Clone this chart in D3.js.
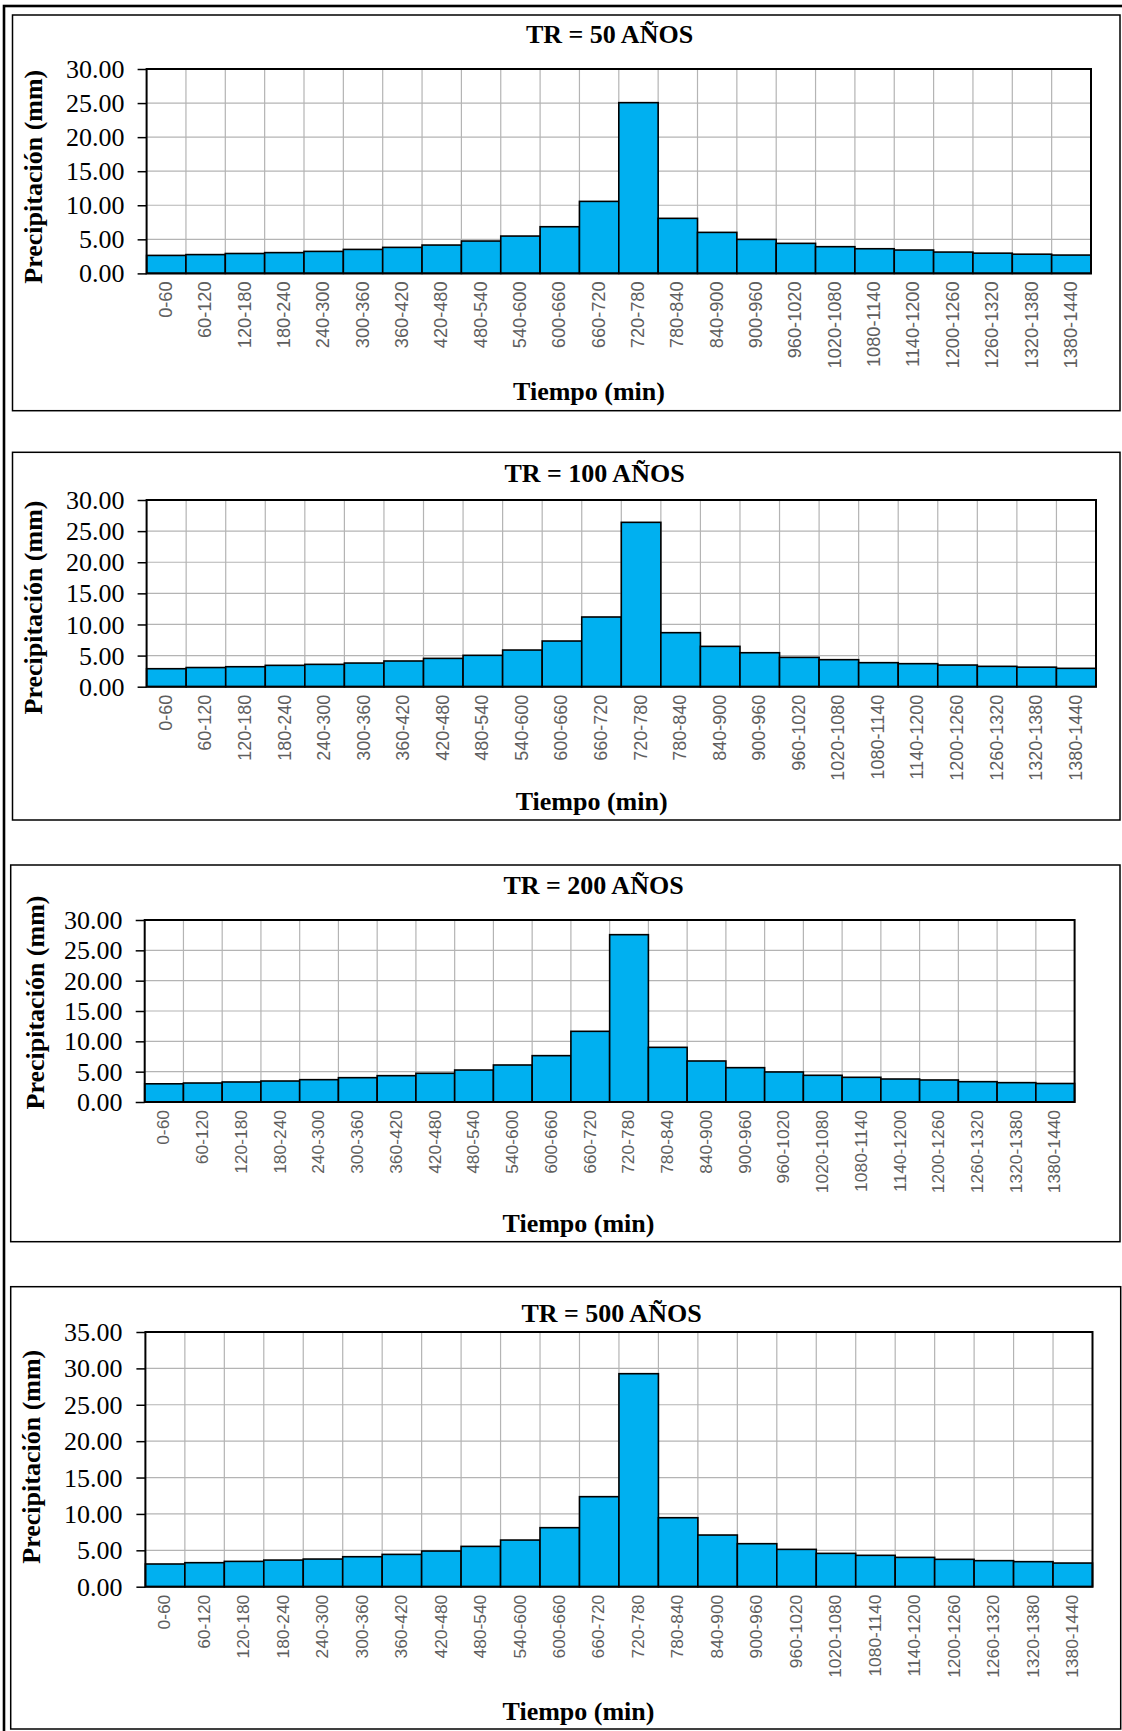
<!DOCTYPE html>
<html>
<head>
<meta charset="utf-8">
<script src="https://cdn.jsdelivr.net/npm/d3@7"></script>
<style>
  html, body { margin: 0; padding: 0; background: #fff; }
  svg { display: block; }
</style>
</head>
<body>
<svg id="chart" width="1122" height="1731"></svg>
<script>
// ---------- DATA ----------
const categories = ["0-60","60-120","120-180","180-240","240-300","300-360","360-420","420-480",
  "480-540","540-600","600-660","660-720","720-780","780-840","840-900","900-960","960-1020",
  "1020-1080","1080-1140","1140-1200","1200-1260","1260-1320","1320-1380","1380-1440"];

const tr50  = [2.64,2.76,2.92,3.05,3.23,3.52,3.82,4.16,4.75,5.48,6.85,10.57,
               25.06,8.08,6.02,4.99,4.41,3.92,3.62,3.43,3.13,2.97,2.82,2.69];
const tr100 = [2.89,3.08,3.21,3.43,3.59,3.80,4.13,4.55,5.04,5.89,7.34,11.20,
               26.41,8.68,6.48,5.46,4.71,4.34,3.86,3.70,3.48,3.27,3.14,2.95];
const tr200 = [3.00,3.13,3.30,3.46,3.68,4.01,4.34,4.73,5.27,6.10,7.64,11.65,
               27.58,9.01,6.76,5.66,4.95,4.40,4.07,3.79,3.63,3.35,3.19,3.05];
const tr500 = [3.12,3.30,3.48,3.66,3.80,4.12,4.44,4.90,5.54,6.41,8.11,12.37,
               29.27,9.48,7.10,5.91,5.13,4.58,4.31,4.03,3.76,3.58,3.44,3.25];

const seriesList = [tr50, tr100, tr200, tr500];
const chartTitles = ["TR = 50 AÑOS","TR = 100 AÑOS","TR = 200 AÑOS","TR = 500 AÑOS"];
const yMaxList = [30, 30, 30, 35];
const yTickStep = 5;
const xAxisTitle = "Tiempo (min)";
const yAxisTitle = "Precipitación (mm)";

// ---------- LAYOUT ----------
const layouts = [
  { box:{x:12.5,y:15,w:1107.5,h:395.7}, plot:{l:146.6,r:1091,t:69,b:273.4},
    title:{x:609.5,y:43.3}, xt:{x:589,y:400}, yt:{x:42,y:176.7}, ylx:124.4, lf:18.2 },
  { box:{x:12.5,y:452.3,w:1107.5,h:367.7}, plot:{l:146.6,r:1096,t:500,b:686.7},
    title:{x:594.5,y:482.3}, xt:{x:591.6,y:810}, yt:{x:42,y:607.5}, ylx:124.4, lf:18 },
  { box:{x:10.7,y:865,w:1109.3,h:376.7}, plot:{l:144.7,r:1074.6,t:920,b:1102},
    title:{x:593.5,y:894.3}, xt:{x:578.5,y:1231.7}, yt:{x:44,y:1002.5}, ylx:122.5, lf:17.4 },
  { box:{x:10.7,y:1286.7,w:1110,h:442.3}, plot:{l:145.4,r:1092.5,t:1332,b:1586.7},
    title:{x:611.5,y:1321.7}, xt:{x:578.5,y:1720}, yt:{x:40,y:1456.7}, ylx:122.5, lf:17.4 }
];

const svg = d3.select("#chart");
const serif = "'Liberation Serif','Times New Roman',Times,serif";
const sans = "'Liberation Sans',Arial,Helvetica,sans-serif";

// outer frame (extends beyond right/bottom edge)
svg.append("rect").attr("x", 4).attr("y", 6).attr("width", 1200).attr("height", 1800)
  .attr("fill", "none").attr("stroke", "#000").attr("stroke-width", 2.6);

seriesList.forEach((values, ci) => {
  const L = layouts[ci];
  const g = svg.append("g");

  g.append("rect").attr("x", L.box.x).attr("y", L.box.y).attr("width", L.box.w).attr("height", L.box.h)
    .attr("fill", "#fff").attr("stroke", "#000").attr("stroke-width", 1.5);

  const x = d3.scaleBand().domain(categories).range([L.plot.l, L.plot.r]).padding(0);
  const y = d3.scaleLinear().domain([0, yMaxList[ci]]).range([L.plot.b, L.plot.t]);
  const yTicks = d3.range(0, yMaxList[ci] + 0.001, yTickStep);

  // horizontal grid
  g.append("g").selectAll("line").data(yTicks).join("line")
    .attr("x1", L.plot.l).attr("x2", L.plot.r)
    .attr("y1", d => y(d)).attr("y2", d => y(d))
    .attr("stroke", "#b4b4b4").attr("stroke-width", 1.2);
  // vertical grid
  g.append("g").selectAll("line").data(categories.slice(1)).join("line")
    .attr("x1", d => x(d)).attr("x2", d => x(d))
    .attr("y1", L.plot.t).attr("y2", L.plot.b)
    .attr("stroke", "#b4b4b4").attr("stroke-width", 1.2);

  // bars
  g.append("g").selectAll("rect").data(values).join("rect")
    .attr("x", (d, i) => x(categories[i]))
    .attr("width", x.bandwidth())
    .attr("y", d => y(d))
    .attr("height", d => y(0) - y(d))
    .attr("fill", "#00B0F0").attr("stroke", "#000").attr("stroke-width", 1.6);

  // plot border
  g.append("rect").attr("x", L.plot.l).attr("y", L.plot.t)
    .attr("width", L.plot.r - L.plot.l).attr("height", L.plot.b - L.plot.t)
    .attr("fill", "none").attr("stroke", "#000").attr("stroke-width", 2);

  // y axis
  const yAxis = d3.axisLeft(y).tickValues(yTicks).tickFormat(d3.format(".2f"))
    .tickSize(9).tickPadding(L.plot.l - L.ylx - 9);
  const ya = g.append("g").attr("transform", `translate(${L.plot.l},0)`).call(yAxis);
  ya.select(".domain").remove();
  ya.selectAll(".tick line").attr("stroke", "#000").attr("stroke-width", 1.5);
  ya.selectAll(".tick text").attr("font-family", serif).attr("font-size", 26)
    .attr("fill", "#000").attr("dy", "0.33em");

  // x tick labels (rotated)
  g.append("g").selectAll("text").data(categories).join("text")
    .attr("transform", d => `translate(${x(d) + x.bandwidth() / 2 - 1},${L.plot.b + 8}) rotate(-90)`)
    .attr("text-anchor", "end").attr("dy", "0.36em")
    .attr("font-family", sans).attr("font-size", L.lf).attr("fill", "#5e5e5e")
    .text(d => d);

  // titles
  g.append("text").attr("x", L.title.x).attr("y", L.title.y)
    .attr("text-anchor", "middle").attr("font-family", serif).attr("font-weight", "bold")
    .attr("font-size", 26).text(chartTitles[ci]);
  g.append("text").attr("x", L.xt.x).attr("y", L.xt.y)
    .attr("text-anchor", "middle").attr("font-family", serif).attr("font-weight", "bold")
    .attr("font-size", 26).text(xAxisTitle);
  g.append("text").attr("transform", `translate(${L.yt.x},${L.yt.y}) rotate(-90)`)
    .attr("text-anchor", "middle").attr("font-family", serif).attr("font-weight", "bold")
    .attr("font-size", 26).text(yAxisTitle);
});
</script>
</body>
</html>
